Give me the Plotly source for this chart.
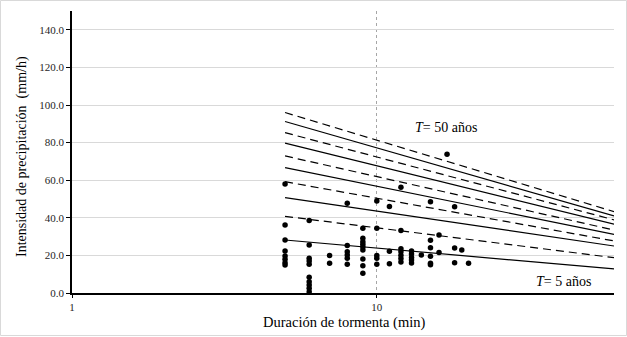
import plotly.graph_objects as go

# ---- data ----
line_durations = [5, 60]
return_periods = [50, 45, 40, 35, 30, 25, 20, 15, 10, 5]
i_at_5 = [96.0, 91.2, 85.3, 79.7, 72.9, 66.7, 59.2, 50.7, 40.8, 28.2]
i_at_60 = [43.3, 41.0, 38.9, 36.6, 33.5, 31.2, 27.7, 25.0, 18.8, 12.8]
line_dash = ["dash", "solid", "dash", "solid", "dash", "solid", "dash", "solid", "dash", "solid"]

obs_duration = (
    [5] * 8 + [6] * 10 + [7] * 2 + [8] * 6 + [9] * 9 + [10] * 5 + [11] * 3 + [12] * 7
    + [13] * 5 + [14] * 1 + [15] * 6 + [16] * 2 + [17] * 1 + [18] * 3 + [19] * 1 + [20] * 1
)
obs_intensity = (
    [58.0, 36.2, 28.2, 22.4, 19.7, 17.9, 16.1, 14.9]
    + [38.5, 25.5, 18.5, 17.0, 15.3, 8.4, 6.0, 4.3, 2.5, 0.7]
    + [19.9, 15.8]
    + [47.7, 25.2, 22.0, 20.2, 18.5, 15.3]
    + [34.4, 29.1, 27.3, 25.9, 24.5, 22.9, 18.1, 14.5, 10.5]
    + [49.0, 34.4, 19.9, 18.5, 15.3]
    + [46.0, 22.2, 15.5]
    + [56.3, 33.2, 23.6, 21.9, 20.1, 18.3, 16.5]
    + [22.4, 20.7, 18.9, 17.5, 16.0]
    + [20.2]
    + [48.5, 28.0, 24.1, 19.5, 15.8, 15.0]
    + [30.9, 21.5]
    + [73.8]
    + [45.9, 24.0, 16.1]
    + [22.9]
    + [15.8]
)

y_ticks = [0, 20, 40, 60, 80, 100, 120, 140]
x_ticks = [1, 10]

FONT = "Liberation Serif"

fig = go.Figure()
for T, a, b, d in zip(return_periods, i_at_5, i_at_60, line_dash):
    fig.add_trace(go.Scatter(
        x=line_durations, y=[a, b], mode="lines", name=f"T={T}",
        line=dict(color="black", width=1.2, dash="8px,5px" if d == "dash" else "solid"),
        showlegend=False,
    ))

fig.add_trace(go.Scatter(
    x=obs_duration, y=obs_intensity, mode="markers",
    marker=dict(color="black", size=5.5), showlegend=False,
))

L, R, T_, B = 72, 13, 11, 44
W, H = 627, 337
pw, ph = W - L - R, H - T_ - B

fig.add_annotation(x=1.118, y=88.3, xref="x", yref="y", text="<i>T</i>= 50 años",
                   showarrow=False, xanchor="left", yanchor="middle",
                   font=dict(family=FONT, size=14, color="black"))
fig.add_annotation(x=1.516, y=6.0, xref="x", yref="y", text="<i>T</i>= 5 años",
                   showarrow=False, xanchor="left", yanchor="middle",
                   font=dict(family=FONT, size=14, color="black"))

# axis titles
fig.add_annotation(x=(344 - L) / pw, y=((H - B) - 322) / ph, xref="paper", yref="paper",
                   text="Duración de tormenta (min)", showarrow=False,
                   xanchor="center", yanchor="middle",
                   font=dict(family=FONT, size=14.5, color="black"))
fig.add_annotation(x=(22 - L) / pw, y=((H - B) - 157) / ph, xref="paper", yref="paper",
                   text="Intensidad de precipitación  (mm/h)", showarrow=False, textangle=-90,
                   xanchor="center", yanchor="middle",
                   font=dict(family=FONT, size=14, color="black"))

fig.add_shape(type="rect", xref="paper", yref="paper",
              x0=(0.5 - L) / pw, x1=(W - 0.5 - L) / pw,
              y0=((H - B) - (H - 1.5)) / ph, y1=((H - B) - 0.5) / ph,
              line=dict(color="#d9d9d9", width=1), layer="below")

fig.update_layout(
    width=W, height=H,
    margin=dict(l=L, r=R, t=T_, b=B, autoexpand=False),
    paper_bgcolor="white", plot_bgcolor="white",
    font=dict(family=FONT, size=11, color="black"),
    xaxis=dict(
        type="log", range=[0, 1.7782], automargin=False,
        tickvals=x_ticks, ticktext=[str(v) for v in x_ticks],
        showgrid=True, gridcolor="#a6a6a6", griddash="dot", gridwidth=1,
        showline=True, linecolor="black", linewidth=1.5,
        ticks="outside", ticklen=3, tickcolor="black",
        tickfont=dict(family=FONT, size=11, color="#262626"),
        zeroline=False,
    ),
    yaxis=dict(
        range=[0, 150], automargin=False,
        tickvals=y_ticks, tickformat=".1f",
        showgrid=True, gridcolor="#d9d9d9", gridwidth=1,
        showline=True, linecolor="black", linewidth=1.5,
        ticks="outside", ticklen=4, tickcolor="black",
        tickfont=dict(family=FONT, size=11, color="#262626"),
        zeroline=False,
    ),
)

fig.write_html("out.html", config={"displayModeBar": False},
               post_script="document.body.style.margin='0';")
